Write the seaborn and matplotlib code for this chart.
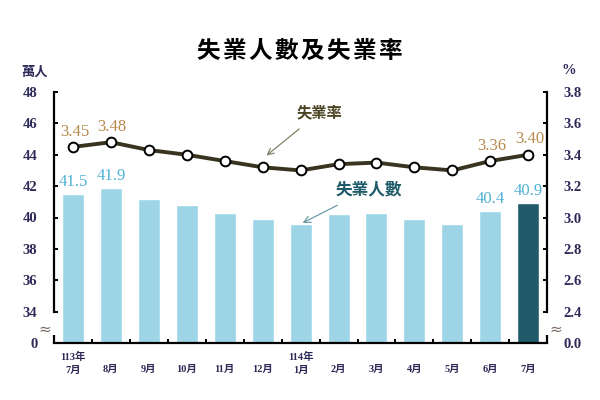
import numpy as np
import pandas as pd
import matplotlib
matplotlib.use("Agg")
import matplotlib.pyplot as plt
import seaborn as sns

# Monthly figures, Jul 2024 (ROC 113) to Jul 2025 (ROC 114)
months = ["7月", "8月", "9月", "10月", "11月", "12月", "1月",
          "2月", "3月", "4月", "5月", "6月", "7月"]
years = ["113年", "", "", "", "", "", "114年", "", "", "", "", "", ""]
unemployed = [41.5, 41.9, 41.2, 40.8, 40.3, 39.9, 39.6,
              40.2, 40.3, 39.9, 39.6, 40.4, 40.9]      # 萬人
rate = [3.45, 3.48, 3.43, 3.40, 3.36, 3.32, 3.30,
        3.34, 3.35, 3.32, 3.30, 3.36, 3.40]            # %
left_ticks = [34, 36, 38, 40, 42, 44, 46, 48]
right_ticks = [2.4, 2.6, 2.8, 3.0, 3.2, 3.4, 3.6, 3.8]
labelled_bars = [0, 1, 11, 12]
labelled_points = [0, 1, 11, 12]

sns.set_theme(style="white")
SERIF = ["Liberation Serif", "Noto Sans CJK TC", "DejaVu Sans"]
CJK = ["Noto Sans CJK TC", "DejaVu Sans"]
plt.rcParams["font.family"] = SERIF

LIGHT = "#9dd5e7"
DARK = "#215a69"
LINE = "#39341f"
TICKC = "#2e2a58"
BARLBL = "#4fb1d6"
RATELBL = "#b98a4e"

n = len(months)
pos = np.arange(n)
df = pd.DataFrame({
    "pos": pos,
    "unemployed": unemployed,
    "rate": rate,
    "latest": ["old"] * (n - 1) + ["new"],
})

fig = plt.figure(figsize=(6, 4), dpi=100)
ax = fig.add_axes([0.09, 0.1425, 0.822, 0.6275])

sns.barplot(data=df, x="pos", y="unemployed", hue="latest",
            palette={"old": LIGHT, "new": DARK}, width=0.58,
            dodge=False, legend=False, ax=ax, saturation=1)

# broken scale: bottom position stands for 0
ax.set_ylim(32, 48)
ax.set_yticks([32] + left_ticks)
ax.set_yticklabels(["0"] + [str(t) for t in left_ticks])
ax.set_xlim(-0.5, n - 0.5)

ax2 = ax.twinx()
sns.lineplot(x=pos, y=rate, ax=ax2, color=LINE, linewidth=2.8,
             marker="o", markersize=7, markerfacecolor="white",
             markeredgecolor="black", markeredgewidth=1.4, zorder=5)
ax2.set_ylim(2.2, 3.8)
ax2.set_yticks([2.2] + right_ticks)
ax2.set_yticklabels(["0.0"] + [f"{t:.1f}" for t in right_ticks])
ax2.set_xlim(-0.5, n - 0.5)

# x labels: year on the first line, month below
ax.set_xticks(pos)
ax.set_xticklabels([f"{y}\n{m}" for y, m in zip(years, months)],
                   fontsize=7.5, fontweight="bold", color=TICKC,
                   linespacing=1.6, family=SERIF)
ax.set_xticks(np.arange(0.5, n - 1, 1), minor=True)
ax.tick_params(axis="x", which="major", length=0, pad=6)
ax.tick_params(axis="x", which="minor", direction="in", length=3,
               width=1.4, color="black", bottom=True)
ax.set_xlabel("")
ax.set_ylabel("")
ax2.set_ylabel("")

for a in (ax, ax2):
    for s in a.spines.values():
        s.set_visible(False)
    a.tick_params(axis="y", direction="in", length=3, width=1.4,
                  color="black", labelsize=10.5, labelcolor=TICKC, pad=12)
    for lbl in a.get_yticklabels():
        lbl.set_fontweight("bold")
    a.grid(False)

ax.spines["left"].set_visible(True)
ax.spines["left"].set_bounds(34, 48)
ax.spines["left"].set_linewidth(1.6)
ax.spines["left"].set_color("black")
ax.spines["bottom"].set_visible(True)
ax.spines["bottom"].set_linewidth(1.6)
ax.spines["bottom"].set_color("black")
ax2.spines["right"].set_visible(True)
ax2.spines["right"].set_bounds(2.4, 3.8)
ax2.spines["right"].set_linewidth(1.6)
ax2.spines["right"].set_color("black")
ax.tick_params(axis="y", left=True)
ax2.tick_params(axis="y", right=True)

# short stubs of the axes at the zero line, and break marks
for xa in (0, 1):
    ax.plot([xa, xa], [0, 0.03], transform=ax.transAxes, color="black",
            lw=1.6, clip_on=False, solid_capstyle="butt")
ax.text(-0.018, 0.055, "≈", transform=ax.transAxes, ha="center",
        va="center", fontsize=11, color="#7a6a66", family="DejaVu Sans")
ax.text(1.018, 0.055, "≈", transform=ax.transAxes, ha="center",
        va="center", fontsize=11, color="#7a6a66", family="DejaVu Sans")

# value labels
for i in labelled_bars:
    ax.annotate(f"{unemployed[i]:.1f}", (pos[i], unemployed[i]),
                xytext=(0, 3), textcoords="offset points", ha="center",
                va="bottom", fontsize=12, color=BARLBL, family=SERIF)
for i in labelled_points:
    ax2.annotate(f"{rate[i]:.2f}", (pos[i], rate[i]),
                 xytext=(1, 11), textcoords="offset points", ha="center",
                 va="center", fontsize=12, color=RATELBL, family=SERIF,
                 zorder=6)

# series callouts
ax2.annotate("失業率", xy=(pos[5] + 0.1, rate[5] + 0.075),
             xytext=(pos[6] + 0.5, 3.67), ha="center", va="center",
             fontsize=11, fontweight="bold", color="#4a4322", family=CJK,
             arrowprops=dict(arrowstyle="->", color="#85826a", lw=0.9,
                             shrinkA=6, shrinkB=0))
ax.annotate("失業人數", xy=(pos[6] + 0.05, unemployed[6] + 0.05),
            xytext=(pos[7] + 0.8, 41.8), ha="center", va="center",
            fontsize=12, fontweight="bold", color="#1e5a68", family=CJK,
            arrowprops=dict(arrowstyle="->", color="#6c9ca8", lw=0.9,
                            shrinkA=6, shrinkB=0))

fig.text(0.5, 0.872, "\u200a".join("失業人數及失業率"), ha="center",
         va="center", fontsize=17, fontweight="heavy", color="black",
         family=CJK)
fig.text(0.057, 0.82, "萬人", ha="center", va="center", fontsize=9.5,
         fontweight="bold", color=TICKC, family=CJK)
fig.text(0.948, 0.825, "%", ha="center", va="center", fontsize=10.5,
         fontweight="bold", color=TICKC, family=SERIF)

fig.savefig("out.png", dpi=100)
